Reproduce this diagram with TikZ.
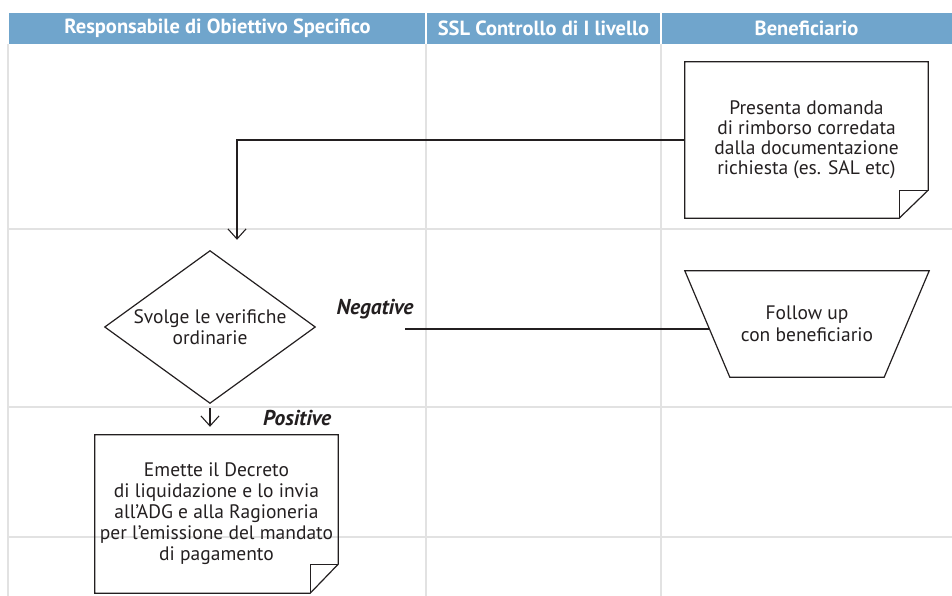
\documentclass[tikz,border=0pt]{standalone}
\usepackage{fontspec}
\setmainfont{PT Sans}
\usetikzlibrary{arrows.meta,calc,shapes.geometric}
\definecolor{hdr}{RGB}{112,165,204}
\definecolor{gridc}{RGB}{226,226,226}
\definecolor{ink}{RGB}{35,31,32}
\begin{document}
\begin{tikzpicture}[x=1pt,y=1pt,
 hdrtext/.style={text=white,font=\fontsize{20.5}{22}\selectfont\bfseries,inner sep=0},
 gridline/.style={draw=gridc,line width=1.6pt},
 docbox/.style={rectangle,draw=none,align=center,text=ink,inner sep=0},
 bodyfont/.style={font=\fontsize{19.5}{21}\selectfont},
 shapeline/.style={draw=ink,line width=1.2pt,line join=miter},
 conn/.style={draw=ink,line width=1.1pt},
 arr/.style={conn,-{Straight Barb[length=10pt,width=18pt,line width=1.1pt]}},
 lbl/.style={text=ink,font=\fontsize{21.5}{23}\selectfont\bfseries\itshape,inner sep=0}
]
\path[use as bounding box] (0,0) rectangle (952,596);
% header
\fill[hdr] (9,552) rectangle (952,583);
\draw[white,line width=1.5pt] (426,552) -- (426,583) (661,552) -- (661,583);
\node[hdrtext] (h1) at (217.5,567.5) {Responsabile di Obiettivo Specifico};
\node[hdrtext] (h2) at (543.5,567.5) {SSL Controllo di I livello};
\node[hdrtext] (h3) at (806.5,567.5) {Beneficiario};
% grid
\draw[gridline] (8,552) -- (8,0) (426,552) -- (426,0) (661,552) -- (661,0);
\draw[gridline] (8,367) -- (952,367) (8,189) -- (952,189) (8,59) -- (952,59);
% document 1
\node[docbox,font=\fontsize{19.5}{20}\selectfont,minimum width=243pt,minimum height=156pt] (d1) at (806.5,456)
 {Presenta domanda\\di rimborso corredata\\dalla documentazione\\richiesta (es. SAL etc)};
\draw[shapeline] (d1.north west) -- (d1.north east) -- ([yshift=28pt]d1.south east)
 -- ([xshift=-29pt]d1.south east) -- (d1.south west) -- cycle;
\draw[shapeline] ([yshift=28pt]d1.south east) -- ([xshift=-29pt,yshift=28pt]d1.south east) -- ([xshift=-29pt]d1.south east);
% decision
\node[docbox,bodyfont,minimum width=210pt,minimum height=152pt] (dia) at (210,269)
 {Svolge le verifiche\\ordinarie};
\draw[shapeline] (dia.north) -- (dia.east) -- (dia.south) -- (dia.west) -- cycle;
% follow up
\node[docbox,font=\fontsize{19.5}{22}\selectfont,minimum width=244pt,minimum height=106pt] (fu) at (807,272)
 {Follow up\\con beneficiario};
\draw[shapeline] (fu.north west) -- (fu.north east) -- ([xshift=-45pt]fu.south east)
 -- ([xshift=45pt]fu.south west) -- cycle;
% document 2
\node[docbox,bodyfont,minimum width=243pt,minimum height=158pt] (d2) at (216.5,82)
 {Emette il Decreto\\di liquidazione e lo invia\\all’ADG e alla Ragioneria\\per l’emissione del mandato\\di pagamento};
\draw[shapeline] (d2.north west) -- (d2.north east) -- ([yshift=29pt]d2.south east)
 -- ([xshift=-28pt]d2.south east) -- (d2.south west) -- cycle;
\draw[shapeline] ([yshift=29pt]d2.south east) -- ([xshift=-28pt,yshift=29pt]d2.south east) -- ([xshift=-28pt]d2.south east);
% labels
\node[lbl] (neg) at (375,287) {Negative};
\node[lbl] (pos) at (297,178) {Positive};
% connectors
\draw[arr,shorten >=11pt] (d1.west) -| ([xshift=27pt]dia.north);
\coordinate (negstart) at (405,267);
\draw[conn] (negstart) -- ([xshift=24.6pt,yshift=-5pt]fu.west);
\draw[arr,shorten <=5pt,shorten >=8pt] (dia.south) -- (dia.south |- d2.north);
\end{tikzpicture}
\end{document}
